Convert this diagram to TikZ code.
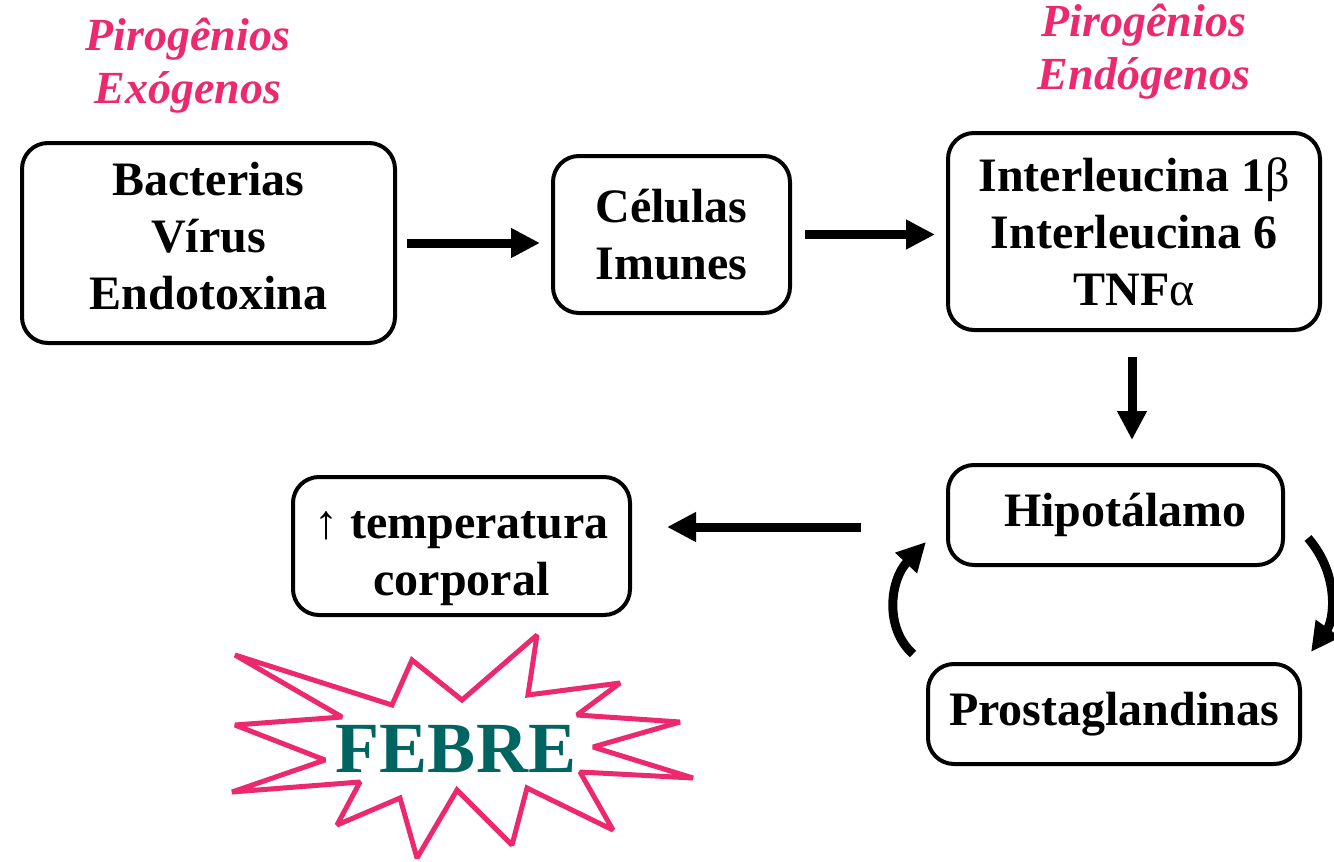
\documentclass[tikz,border=0pt]{standalone}
\usepackage{fontspec}
\setmainfont{Liberation Serif}
\usepackage{tikz}
\usetikzlibrary{calc, arrows.meta}

\definecolor{rosa}{RGB}{236,40,110}
\definecolor{verdeazul}{RGB}{0,100,96}

\tikzset{
  caixa/.style={draw, line width=4pt, rounded corners=26pt, inner sep=0pt,
    align=center, font=\fontsize{48}{57}\selectfont\bfseries},
  rotulo/.style={text=rosa, align=center, font=\fontsize{46}{53}\selectfont\bfseries\itshape},
  seta/.style={line width=9pt, -{Triangle[length=29pt, width=28pt]}},
  estrela/.style={draw=rosa, line width=5pt, line join=miter, miter limit=2},
}

\begin{document}
\begin{tikzpicture}[x=1pt, y=-1pt]
		\useasboundingbox (0,0) rectangle (1334,862);
		% rotulos
		\node[rotulo] (exo) at (188,66) {Pirogênios\\Exógenos};
		\node[rotulo] (endo) at (1144,52) {Pirogênios\\Endógenos};
		% caixas
		\node[caixa, minimum width=373pt, minimum height=200pt, text depth=14pt] (agentes) at (208.5,243) {Bacterias\\Vírus\\Endotoxina};
		\node[caixa, minimum width=237pt, minimum height=157pt] (celulas) at (671.5,234.5) {Células\\Imunes};
		\node[caixa, minimum width=372pt, minimum height=197pt] (inter) at (1134,231.5) {Interleucina 1{\mdseries β}\\Interleucina 6\\TNF{\mdseries α}};
		\node[caixa, minimum width=335pt, minimum height=100pt] (hipo) at (1115.5,515) {\hspace*{20pt}Hipotálamo};
		\node[caixa, minimum width=372pt, minimum height=100pt] (prosta) at (1114,714) {Prostaglandinas};
		\node[caixa, minimum width=337pt, minimum height=138pt, text height=109pt] (temp) at (461.5,546) {{\mdseries ↑} temperatura\\corporal};
		% setas
		\draw[seta, shorten <=10pt, shorten >=11pt] (agentes.east) -- (agentes.east -| celulas.west);
		\draw[seta, shorten <=13pt, shorten >=11pt] (celulas.east) -- (celulas.east -| inter.west);
		\draw[seta, shorten <=25pt, shorten >=23pt] ([xshift=-2pt]inter.south) -- ([xshift=-2pt]inter.south |- hipo.north);
		\draw[seta, shorten <=85pt, shorten >=35pt] ([yshift=-12pt]hipo.west) -- ([yshift=-12pt]hipo.west -| temp.east);
		% ciclo
		\coordinate (hipo sai) at (1308,538);
		\coordinate (prosta chega) at (1311,652);
		\coordinate (prosta sai) at (913,654);
		\coordinate (hipo chega) at (926,542);
		\draw[seta] (hipo sai) .. controls (1340,575) and (1334,620) .. (prosta chega);
		\draw[seta] (prosta sai) .. controls (884,628) and (890,580) .. (hipo chega);
		% febre
		\draw[estrela] (235,655) -- (392,705) -- (412,660) -- (462,700) -- (537,635) -- (528,695)
			-- (620,683) -- (577,715) -- (680,722) -- (593,747) -- (693,778) -- (580,772)
			-- (613,830) -- (527,788) -- (512,845) -- (457,790) -- (417,858) -- (400,798)
			-- (337,825) -- (360,782) -- (232,792) -- (325,760) -- (235,725) -- (342,717) -- cycle;
		\node[text=verdeazul, font=\fontsize{72}{72}\selectfont\bfseries] (febre) at (456,749) {FEBRE};
	\end{tikzpicture}
\end{document}
